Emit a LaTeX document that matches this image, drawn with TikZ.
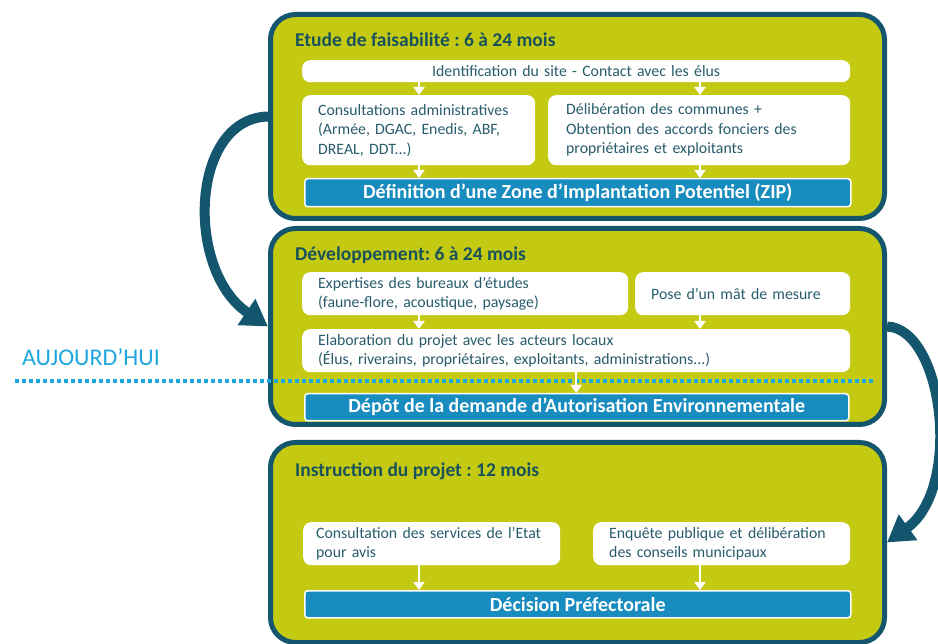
\documentclass[tikz,border=0pt]{standalone}
\usepackage{fontspec}
\setmainfont{Carlito}
\usetikzlibrary{arrows.meta}
\frenchspacing

\definecolor{panelfill}{RGB}{196,201,18}
\definecolor{panelline}{RGB}{20,86,110}
\definecolor{barblue}{RGB}{24,140,190}
\definecolor{titletext}{RGB}{24,82,90}
\definecolor{bodytext}{RGB}{40,92,108}
\definecolor{todayblue}{RGB}{30,166,222}

\begin{document}
\begin{tikzpicture}[x=1pt, y=-1pt,
  panel/.style={draw=panelline, line width=5pt, fill=panelfill, rounded corners=25pt,
    anchor=north west, inner sep=0pt},
  ptitle/.style={anchor=base west, inner sep=0pt, text=titletext,
    font=\fontsize{19.5}{22}\selectfont\bfseries},
  wbox/.style={fill=white, rounded corners=8pt, anchor=north west, align=left,
    inner xsep=16pt, inner ysep=0pt, text=bodytext, font=\fontsize{15.8}{19.5}\selectfont},
  bar/.style={fill=barblue, draw=white, line width=1.5pt, rounded corners=3pt, anchor=north west,
    inner sep=0pt, text=white, font=\fontsize{20}{22}\selectfont\bfseries},
  wa/.style={white, line width=2pt, -{Triangle[width=11pt,length=8pt]}},
  bigarrow/.style={panelline, line width=10pt, -{Triangle[width=30pt,length=26pt]}},
  today/.style={todayblue, line width=4pt, dash pattern=on 4pt off 3pt}]

  \useasboundingbox (0,0) rectangle (938,644);

  % column positions of the small arrows
  \coordinate (colL) at (419,0);
  \coordinate (colR) at (700,0);

  % Panels
  \node[panel, minimum width=614pt, minimum height=204pt] (p1) at (268,12) {};
  \node[panel, minimum width=614pt, minimum height=196pt] (p2) at (268,226) {};
  \node[panel, minimum width=614pt, minimum height=200pt] (p3) at (268,440) {};

  % Etude de faisabilite
  \node[ptitle] (t1) at (295,47) {Etude de faisabilité : 6 à 24 mois};
  \node[wbox, align=center, text width=516pt, minimum height=22pt] (ident) at (302,60)
    {Identification du site - Contact avec les élus};
  \node[wbox, text width=201pt, minimum height=70pt] (cons) at (302,95)
    {Consultations administratives\\(Armée, DGAC, Enedis, ABF,\\DREAL, DDT...)};
  \node[wbox, inner xsep=18pt, text width=266pt, minimum height=70pt] (delib) at (548,95)
    {Délibération des communes +\\Obtention des accords fonciers des\\propriétaires et exploitants};
  \node[bar, minimum width=546pt, minimum height=28pt] (zip) at (304,178)
    {Définition d’une Zone d’Implantation Potentiel (ZIP)};
  \draw[wa] (ident.south -| colL) -- (cons.north -| colL);
  \draw[wa] (ident.south -| colR) -- (delib.north -| colR);
  \draw[wa] (cons.south -| colL) -- (zip.north -| colL);
  \draw[wa] (delib.south -| colR) -- (zip.north -| colR);

  % Developpement
  \node[ptitle] (t2) at (295,261) {Développement: 6 à 24 mois};
  \node[wbox, text width=294pt, minimum height=43pt] (expert) at (302,272)
    {Expertises des bureaux d’études\\(faune-flore, acoustique, paysage)};
  \node[wbox, text width=183pt, minimum height=43pt] (mast) at (635,272)
    {Pose d’un mât de mesure};
  \node[wbox, text width=516pt, minimum height=43pt] (elab) at (302,329)
    {Elaboration du projet avec les acteurs locaux\\(Élus, riverains, propriétaires, exploitants, administrations...)};
  \node[bar, minimum width=544pt, minimum height=27pt] (depot) at (304,393)
    {Dépôt de la demande d’Autorisation Environnementale};
  \draw[wa] (expert.south -| colL) -- (elab.north -| colL);
  \draw[wa] (mast.south -| colR) -- (elab.north -| colR);

  % Aujourd'hui
  \coordinate (nowL) at (15,381);
  \coordinate (nowR) at (873,381);
  \node[anchor=base west, text=todayblue, font=\fontsize{24}{26}\selectfont, inner sep=0pt]
    (now) at (22,366) {AUJOURD’HUI};
  \draw[today] (nowL) -- (nowR);
  \draw[wa] (elab.south) -- (depot.north -| elab.south);

  % Instruction du projet
  \node[ptitle] (t3) at (295,477) {Instruction du projet : 12 mois};
  \node[wbox, inner xsep=13pt, text width=231pt, minimum height=43pt] (etat) at (303,522)
    {Consultation des services de l’Etat\\pour avis};
  \node[wbox, text width=225pt, minimum height=43pt] (enq) at (593,522)
    {Enquête publique et délibération\\des conseils municipaux};
  \node[bar, minimum width=546pt, minimum height=27pt] (prefet) at (304,590)
    {Décision Préfectorale};
  \draw[wa] (etat.south -| colL) -- (prefet.north -| colL);
  \draw[wa] (enq.south -| colR) -- (prefet.north -| colR);

  % Big arrows between panels
  \draw[bigarrow] (p1.west) .. controls +(-78,2) and +(-83,-56) .. (p2.west);
  \draw[bigarrow] (p2.east) .. controls +(56,2) and +(76,-55) .. (p3.east);

\end{tikzpicture}
\end{document}
